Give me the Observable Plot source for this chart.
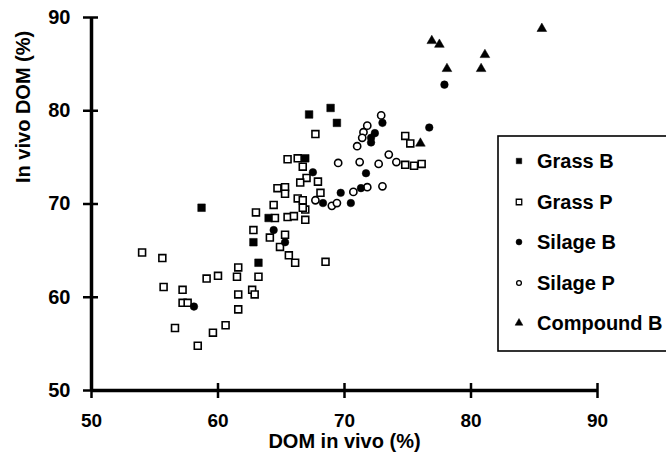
<!DOCTYPE html>
<html><head><meta charset="utf-8">
<script src="https://cdn.jsdelivr.net/npm/d3@7"></script>
<script src="https://cdn.jsdelivr.net/npm/@observablehq/plot@0.6"></script>
<style>
body{margin:0;background:#fff;}
#chart{width:666px;height:464px;}
svg text{font-family:"Liberation Sans",Arial,Helvetica,sans-serif;font-weight:bold;}
</style></head><body><div id="chart"></div>
<script>
const xTicks = [50, 60, 70, 80, 90];
const yTicks = [50, 60, 70, 80, 90];
const xLabel = "DOM in vivo (%)";
const yLabel = "In vivo DOM (%)";
const categories = ["Grass B", "Grass P", "Silage B", "Silage P", "Compound B"];

const grassB = [[58.7,69.6],[62.8,65.9],[63.2,63.7],[64.0,68.5],[66.9,74.9],[67.2,79.6],[68.9,80.3],[69.4,78.7]];
const grassP = [[54.0,64.8],[55.6,64.2],[55.7,61.1],[57.2,60.8],[57.2,59.4],[57.6,59.4],[56.6,56.7],[58.4,54.8],
  [59.6,56.2],[60.6,57.0],[59.1,62.0],[60.0,62.3],[61.6,63.2],[61.5,62.2],[61.6,60.3],[61.6,58.7],[62.7,60.8],
  [62.9,60.3],[63.2,62.2],[62.8,67.2],[63.0,69.1],[64.4,69.9],[64.5,68.5],[64.1,66.4],[64.9,65.4],[65.3,66.7],
  [65.6,64.5],[66.1,63.7],[65.5,68.6],[66.0,68.7],[66.9,69.4],[66.9,68.3],[68.5,63.8],[64.7,71.7],[65.3,71.8],
  [65.3,71.1],[66.3,70.6],[66.7,70.4],[68.1,71.2],[65.5,74.8],[66.3,74.9],[66.7,74.0],[67.0,72.8],[66.5,72.3],
  [67.9,72.4],[67.7,77.5],[74.8,77.3],[75.2,76.5],[74.8,74.2],[75.5,74.1],[76.1,74.3],[66.7,69.6]];
const silageB = [[58.1,59.0],[64.4,67.2],[65.3,65.9],[67.5,73.4],[68.3,70.1],[69.7,71.2],[70.5,70.1],[71.3,71.7],
  [71.7,73.3],[72.4,77.6],[72.1,77.1],[72.1,76.6],[73.0,78.7],[76.7,78.2],[77.9,82.8]];
const silageP = [[67.7,70.4],[69.0,69.8],[69.4,70.1],[69.5,74.4],[71.2,74.5],[72.7,74.3],[73.5,75.3],[74.1,74.5],
  [70.7,71.3],[71.8,71.8],[73.0,71.9],[72.9,79.5],[71.8,78.4],[71.5,77.7],[71.4,77.1],[71.0,76.2]];
const compoundB = [[76.9,87.5],[77.5,87.1],[81.1,86.0],[80.8,84.5],[78.1,84.5],[85.6,88.8],[76.0,76.5]];

const W = 666, H = 464, mL = 91, mR = 69, mT = 17, mB = 74;
const frameW = W - mL - mR, frameH = H - mT - mB;
const px = d => d[0], py = d => d[1];
const open = {fill: "white", stroke: "black", strokeWidth: 1.6};
const solid = {fill: "black", stroke: "black", strokeWidth: 0.5};

const chart = Plot.plot({
  width: W, height: H,
  marginLeft: mL, marginRight: mR, marginTop: mT, marginBottom: mB,
  x: {domain: [50, 90]},
  y: {domain: [50, 90]},
  style: {background: "white", color: "black", fontFamily: "Liberation Sans, Arial, sans-serif"},
  marks: [
    Plot.dot(grassP, {x: px, y: py, symbol: "square", r: 3.9, ...open}),
    Plot.dot(grassB, {x: px, y: py, symbol: "square", r: 4.3, ...solid}),
    Plot.dot(silageP, {x: px, y: py, symbol: "circle", r: 3.6, ...open}),
    Plot.dot(silageB, {x: px, y: py, symbol: "circle", r: 3.8, ...solid}),
    Plot.dot(compoundB, {x: px, y: py, symbol: "triangle", r: 3.6, ...solid}),
    Plot.ruleX([50], {stroke: "black", strokeWidth: 3.5}),
    Plot.ruleY([50], {stroke: "black", strokeWidth: 3.5}),
    Plot.tickX(xTicks, {x: d => d, insetTop: frameH - 7, stroke: "black", strokeWidth: 2.5}),
    Plot.tickY(yTicks, {y: d => d, insetRight: frameW - 7, stroke: "black", strokeWidth: 2.5}),
    Plot.axisX(xTicks, {tickSize: 8, tickPadding: 15, fontSize: 19, label: null, stroke: "black", strokeWidth: 2.5}),
    Plot.axisY(yTicks, {tickSize: 8, tickPadding: 13, fontSize: 20, label: null, stroke: "black", strokeWidth: 2.5}),
    Plot.text([xLabel], {text: d => d, frameAnchor: "bottom", dy: 57, fontSize: 20}),
    Plot.text([yLabel], {text: d => d, frameAnchor: "left", rotate: -90, dx: -68, dy: -21, fontSize: 20})
  ]
});
document.getElementById("chart").appendChild(chart);

// legend box (drawn inside the plot's SVG, partly cut at the right edge)
const svg = d3.select(chart);
const lg = svg.append("g").attr("text-anchor", "start");
lg.append("rect").attr("x", 498).attr("y", 136).attr("width", 200).attr("height", 215)
  .attr("fill", "white").attr("stroke", "black").attr("stroke-width", 1.6);
const rowsY = [161, 202, 242, 283, 323];
const symDefs = [
  {type: d3.symbolSquare, size: 30, fill: "black"},
  {type: d3.symbolSquare, size: 30, fill: "white"},
  {type: d3.symbolCircle, size: 28, fill: "black"},
  {type: d3.symbolCircle, size: 18, fill: "white"},
  {type: d3.symbolTriangle, size: 26, fill: "black"}
];
categories.forEach((c, i) => {
  const s = symDefs[i];
  lg.append("path").attr("d", d3.symbol(s.type, s.size)())
    .attr("transform", `translate(519,${rowsY[i]})`)
    .attr("fill", s.fill).attr("stroke", "black").attr("stroke-width", s.fill === "white" ? 1.3 : 0.5);
  lg.append("text").attr("x", 537).attr("y", rowsY[i]).attr("dy", "0.36em")
    .attr("text-anchor", "start")
    .attr("font-size", 20).attr("fill", "black").text(c);
});
</script></body></html>
